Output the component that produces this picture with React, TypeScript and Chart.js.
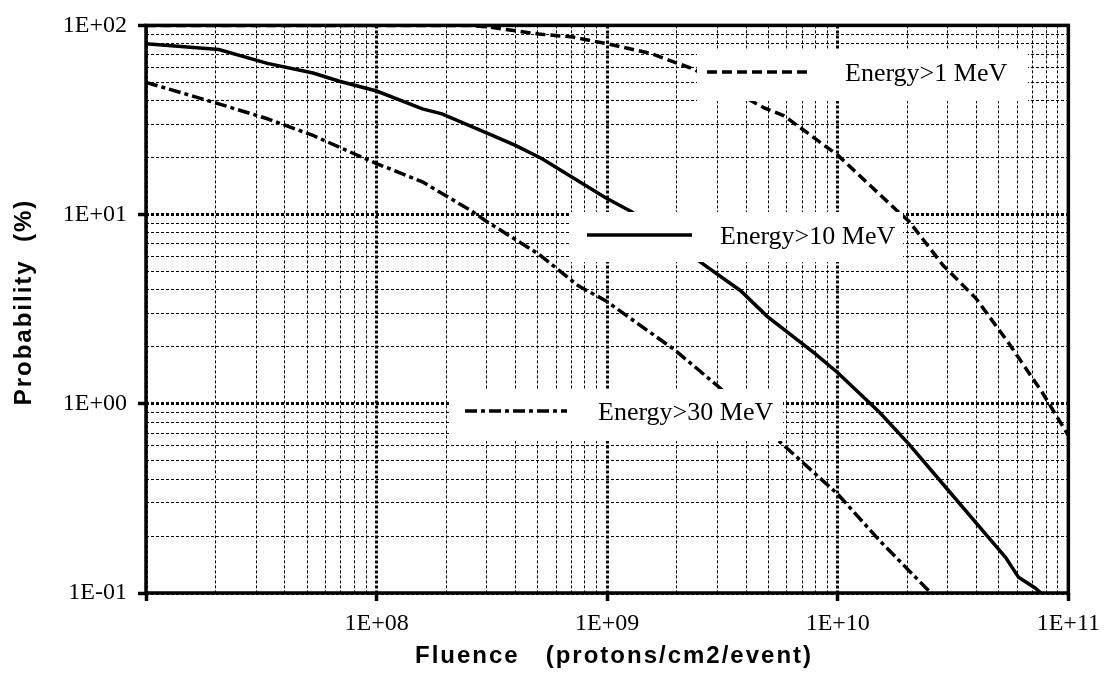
import React, { useEffect, useRef } from 'react';
import { Chart, registerables } from 'chart.js';

Chart.register(...registerables);

// ---------- data ----------
const seriesLabels = ['Energy>1 MeV', 'Energy>10 MeV', 'Energy>30 MeV'];

const fluence1 = [1e7, 2.51e8, 3.07e8, 5.05e8, 7.0e8, 1e9, 1.55e9, 2.39e9, 4.8e9, 5.85e9, 1e10, 1.79e10, 2.04e10, 2.86e10, 3.98e10, 5.5e10, 7.7e10, 1e11];
const prob1 = [100, 100, 98, 90, 87, 80, 71, 58.5, 36.6, 33.3, 20.6, 10.6, 9.2, 5.4, 3.6, 2.1, 1.15, 0.68];

const fluence10 = [1e7, 2.07e7, 3.36e7, 5.3e7, 6.9e7, 1e8, 1.58e8, 1.92e8, 2.98e8, 4.0e8, 5.2e8, 9.8e8, 1.27e9, 2.72e9, 3.79e9, 4.94e9, 7.9e9, 1e10, 1.52e10, 2.04e10, 3.04e10, 4.26e10, 5.35e10, 6.08e10, 7.2e10, 7.6e10];
const prob10 = [80, 74.5, 63, 56, 50.7, 45, 36.2, 34.1, 27.1, 23.2, 19.8, 12.3, 10.4, 5.28, 3.96, 2.9, 1.86, 1.46, 0.9, 0.61, 0.345, 0.213, 0.154, 0.121, 0.106, 0.1];

const fluence30 = [1e7, 2.07e7, 3.36e7, 5.3e7, 6.9e7, 1e8, 1.58e8, 2.6e8, 3.0e8, 5.05e8, 7.5e8, 9.8e8, 1.96e9, 2.8e9, 3.07e9, 5.74e9, 1e10, 1.52e10, 2.42e10, 2.54e10];
const prob30 = [50, 38.5, 32.1, 26.2, 22.7, 18.6, 14.9, 10.4, 9.2, 6.18, 4.2, 3.52, 1.93, 1.34, 1.22, 0.614, 0.333, 0.189, 0.106, 0.1];

const xDecades = [7, 8, 9, 10, 11];
const yDecades = [-1, 0, 1, 2];
const xAxisTitle = 'Fluence   (protons/cm2/event)';
const yAxisTitle = 'Probability  (%)';

// ---------- layout / style (kept apart from data) ----------
const W = 1108;
const H = 683;
const legendBoxes = [
  { x0: 697, y0: 49, x1: 1028, y1: 101, lx0: 707, lx1: 810, ly: 72, tx: 845 },
  { x0: 570, y0: 212, x1: 903, y1: 262, lx0: 587, lx1: 692, ly: 235, tx: 720 },
  { x0: 450, y0: 389, x1: 783, y1: 441, lx0: 465, lx1: 567, ly: 411, tx: 598 },
];
const serif = '"Liberation Serif", "Times New Roman", serif';
const sans = '"Liberation Sans", Arial, Helvetica, sans-serif';

function isDecade(v: any): boolean {
  if (typeof v !== 'number' || v <= 0) return false;
  const l = Math.log10(v);
  return Math.abs(l - Math.round(l)) < 1e-6;
}
function fmtExp(v: number): string {
  const e = Math.round(Math.log10(v));
  return '1E' + (e < 0 ? '-' : '+') + String(Math.abs(e)).padStart(2, '0');
}
function logTicks(decades: number[]): number[] {
  const out: number[] = [];
  for (let i = 0; i < decades.length - 1; i++) {
    for (let m = 1; m <= 9; m++) out.push(m * Math.pow(10, decades[i]));
  }
  out.push(Math.pow(10, decades[decades.length - 1]));
  return out;
}
function toPoints(xs: number[], ys: number[]) {
  return xs.map((x, i) => ({ x, y: ys[i] }));
}

const overlayPlugin = {
  id: 'overlay',
  afterDatasetsDraw(chart: any) {
    const ctx = chart.ctx;
    ctx.save();
    chart.data.datasets.forEach((ds: any, i: number) => {
      const b = legendBoxes[i];
      if (!b) return;
      ctx.fillStyle = '#ffffff';
      ctx.fillRect(b.x0, b.y0, b.x1 - b.x0, b.y1 - b.y0);
      ctx.beginPath();
      ctx.setLineDash(ds.borderDash || []);
      ctx.lineWidth = ds.borderWidth;
      ctx.strokeStyle = ds.borderColor;
      ctx.moveTo(b.lx0, b.ly);
      ctx.lineTo(b.lx1, b.ly);
      ctx.stroke();
      ctx.setLineDash([]);
      ctx.fillStyle = '#000';
      ctx.font = `26px ${serif}`;
      ctx.textAlign = 'left';
      ctx.textBaseline = 'alphabetic';
      ctx.fillText(ds.label, b.tx, b.ly + 9);
    });
    ctx.restore();
  },
  afterDraw(chart: any) {
    const ctx = chart.ctx;
    const a = chart.chartArea;
    ctx.save();
    // frame
    ctx.strokeStyle = '#000';
    ctx.lineWidth = 3.5;
    ctx.setLineDash([]);
    ctx.strokeRect(a.left, a.top, a.right - a.left, a.bottom - a.top);
    // axis titles
    ctx.fillStyle = '#000';
    ctx.font = `bold 24px ${sans}`;
    try { (ctx as any).letterSpacing = '2px'; } catch (e) {}
    ctx.textAlign = 'center';
    ctx.textBaseline = 'middle';
    ctx.fillText(xAxisTitle, 614, 656);
    ctx.translate(24, 302);
    ctx.rotate(-Math.PI / 2);
    ctx.fillText(yAxisTitle, 0, 0);
    ctx.restore();
  },
};

export default function App() {
  const ref = useRef<HTMLCanvasElement | null>(null);

  useEffect(() => {
    if (!ref.current) return;
    const xTickVals = logTicks(xDecades);
    const yTickVals = logTicks(yDecades);
    const gridCommon = {
      color: '#000',
      lineWidth: (c: any) => (isDecade(c.tick && c.tick.value) ? 3 : 1),
      drawTicks: true,
      tickLength: 8,
      tickWidth: (c: any) => (isDecade(c.tick && c.tick.value) ? 3.5 : 0),
      tickColor: (c: any) => (isDecade(c.tick && c.tick.value) ? '#000' : 'rgba(0,0,0,0)'),
    };
    const tickFont = { family: serif, size: 24 };
    const chart = new Chart(ref.current, {
      type: 'line',
      data: {
        datasets: [
          {
            label: seriesLabels[0],
            data: toPoints(fluence1, prob1),
            borderColor: '#000',
            borderWidth: 3.5,
            borderDash: [10, 5],
            pointRadius: 0,
            fill: false,
          },
          {
            label: seriesLabels[1],
            data: toPoints(fluence10, prob10),
            borderColor: '#000',
            borderWidth: 3.5,
            borderDash: [],
            pointRadius: 0,
            fill: false,
          },
          {
            label: seriesLabels[2],
            data: toPoints(fluence30, prob30),
            borderColor: '#000',
            borderWidth: 3.5,
            borderDash: [12, 4, 4, 4],
            pointRadius: 0,
            fill: false,
          },
        ],
      },
      options: {
        responsive: false,
        animation: false,
        layout: { padding: { left: 0, top: 18, right: 33, bottom: 0 } },
        plugins: { legend: { display: false }, tooltip: { enabled: false }, title: { display: false } },
        elements: { line: { tension: 0 }, point: { radius: 0 } },
        scales: {
          x: {
            type: 'logarithmic',
            min: Math.pow(10, xDecades[0]),
            max: Math.pow(10, xDecades[xDecades.length - 1]),
            afterBuildTicks: (s: any) => { s.ticks = xTickVals.map((v) => ({ value: v })); },
            afterFit: (s: any) => { s.height = 90; },
            ticks: {
              autoSkip: false,
              maxRotation: 0,
              padding: 8,
              color: '#000',
              font: tickFont,
              callback: (v: any) => (isDecade(v) && v > 1.5e7 ? fmtExp(v) : ''),
            },
            grid: gridCommon,
            border: { display: false, dash: [3, 2] },
          },
          y: {
            type: 'logarithmic',
            min: Math.pow(10, yDecades[0]),
            max: Math.pow(10, yDecades[yDecades.length - 1]),
            afterBuildTicks: (s: any) => { s.ticks = yTickVals.map((v) => ({ value: v })); },
            afterFit: (s: any) => { s.width = 146; },
            ticks: {
              autoSkip: false,
              padding: 11,
              color: '#000',
              font: tickFont,
              callback: (v: any) => (isDecade(v) ? fmtExp(v) : ''),
            },
            grid: gridCommon,
            border: { display: false, dash: [3, 2] },
          },
        },
      } as any,
      plugins: [overlayPlugin],
    });
    return () => chart.destroy();
  }, []);

  return (
    <div style={{ position: 'absolute', left: 0, top: 0, width: W, height: H, background: '#fff' }}>
      <canvas ref={ref} width={W} height={H} style={{ display: 'block', width: W, height: H }} />
    </div>
  );
}
